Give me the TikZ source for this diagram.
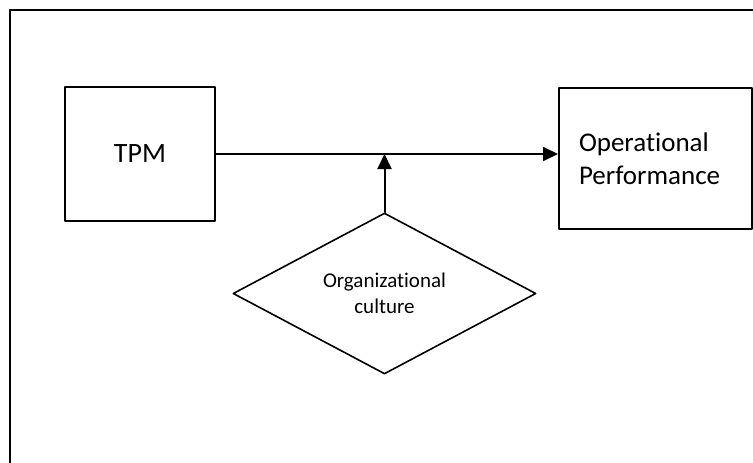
\documentclass[tikz,border=0pt]{standalone}
\usepackage{fontspec}
\setmainfont{Carlito}[Ligatures=NoCommon]
\usetikzlibrary{arrows.meta,shapes.geometric}
\tikzset{
  blockbox/.style={draw,rectangle,line width=2pt,inner sep=0pt},
  modbox/.style={draw,diamond,shape aspect=1.88,line width=1.6pt,inner sep=0pt,minimum width=303pt,minimum height=161pt,align=center}
}

\begin{document}
\begin{tikzpicture}[line cap=round,line join=round,>={Triangle[length=15pt,width=14pt]},x=1pt,y=-1pt]
\clip (0,0) rectangle (753,463);
% outer frame
\draw [line width=2pt] (10,480) -- (10,10) -- (770,10);
\node [blockbox,minimum width=150pt,minimum height=134pt,font=\fontsize{28}{34}\selectfont] (tpm) at (140,154) {TPM};
\node [blockbox,minimum width=193pt,minimum height=141pt,text width=153pt,inner xsep=20pt,align=left,font=\fontsize{27}{33}\selectfont] (perf) at (655.5,158.5) {Operational\\Performance};
\node [modbox,font=\fontsize{21}{26}\selectfont] (culture) at (384.5,293.5) {Organizational\\culture};
\draw [->,line width=2pt] (tpm.east) -- (tpm.east -| perf.west);
\draw [->,line width=2pt] (culture.north) -- (culture.north |- tpm.east);
\end{tikzpicture}
\end{document}
